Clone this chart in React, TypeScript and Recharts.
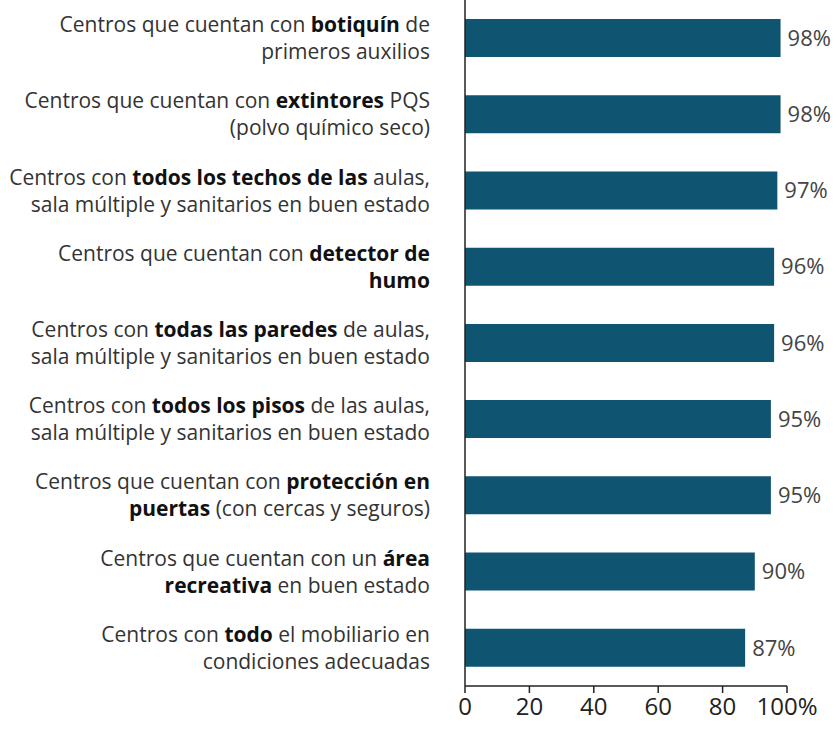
import React from 'react'
import { BarChart, Bar, XAxis, YAxis, LabelList } from 'recharts'

// ** marks the bold part, | splits the two lines
const categories = [
  'Centros que cuentan con **botiquín** de|primeros auxilios',
  'Centros que cuentan con **extintores** PQS|(polvo químico seco)',
  'Centros con **todos los techos de las** aulas,|sala múltiple y sanitarios en buen estado',
  'Centros que cuentan con **detector de**|**humo**',
  'Centros con **todas las paredes** de aulas,|sala múltiple y sanitarios en buen estado',
  'Centros con **todos los pisos** de las aulas,|sala múltiple y sanitarios en buen estado',
  'Centros que cuentan con **protección en**|**puertas** (con cercas y seguros)',
  'Centros que cuentan con un **área**|**recreativa** en buen estado',
  'Centros con **todo** el mobiliario en|condiciones adecuadas',
]

const values = [98, 98, 97, 96, 96, 95, 95, 90, 87]

const xTicks = [0, 20, 40, 60, 80, 100]

const data = categories.map((name, i) => ({ name, value: values[i] }))

const FONT = '"Open Sans", sans-serif'

function CategoryTick(props: any) {
  const { x, y, payload } = props
  const lines: string[] = String(payload.value).split('|')
  return (
    <text x={x} y={y} textAnchor="end" fontFamily={FONT} fontSize={21} fill="#333">
      {lines.map((line, li) => {
        const parts = line.split('**')
        return (
          <tspan key={li} x={x} y={y + (li === 0 ? -6 : 21)}>
            {parts.map((p, pi) =>
              p ? (
                <tspan key={pi} fontWeight={pi % 2 === 1 ? 700 : 400} fill={pi % 2 === 1 ? '#111' : '#333'}>
                  {p}
                </tspan>
              ) : null
            )}
          </tspan>
        )
      })}
    </text>
  )
}

export default function App() {
  return (
    <div style={{ position: 'absolute', left: 0, top: 0, background: '#fff' }}>
      <BarChart
        width={839}
        height={729}
        data={data}
        layout="vertical"
        margin={{ top: 0, right: 52, bottom: 3, left: 0 }}
        barSize={38}
      >
        <XAxis
          type="number"
          domain={[0, 100]}
          ticks={xTicks}
          interval={0}
          height={40}
          tickFormatter={(v: number) => (v === 100 ? '100%' : String(v))}
          axisLine={{ stroke: '#222', strokeWidth: 1.5 }}
          tickLine={{ stroke: '#222', strokeWidth: 1.5 }}
          tickSize={7}
          tickMargin={5}
          tick={{ fill: '#222', fontSize: 24, fontFamily: FONT }}
        />
        <YAxis
          type="category"
          dataKey="name"
          width={465}
          interval={0}
          axisLine={{ stroke: '#222', strokeWidth: 1.5 }}
          tickLine={false}
          tickSize={0}
          tickMargin={35}
          tick={<CategoryTick />}
        />
        <Bar dataKey="value" fill="#0f5470" isAnimationActive={false}>
          <LabelList
            dataKey="value"
            position="right"
            offset={7}
            formatter={(v: any) => `${v}%`}
            style={{ fill: '#444', fontSize: 22, fontFamily: FONT }}
          />
        </Bar>
      </BarChart>
    </div>
  )
}
